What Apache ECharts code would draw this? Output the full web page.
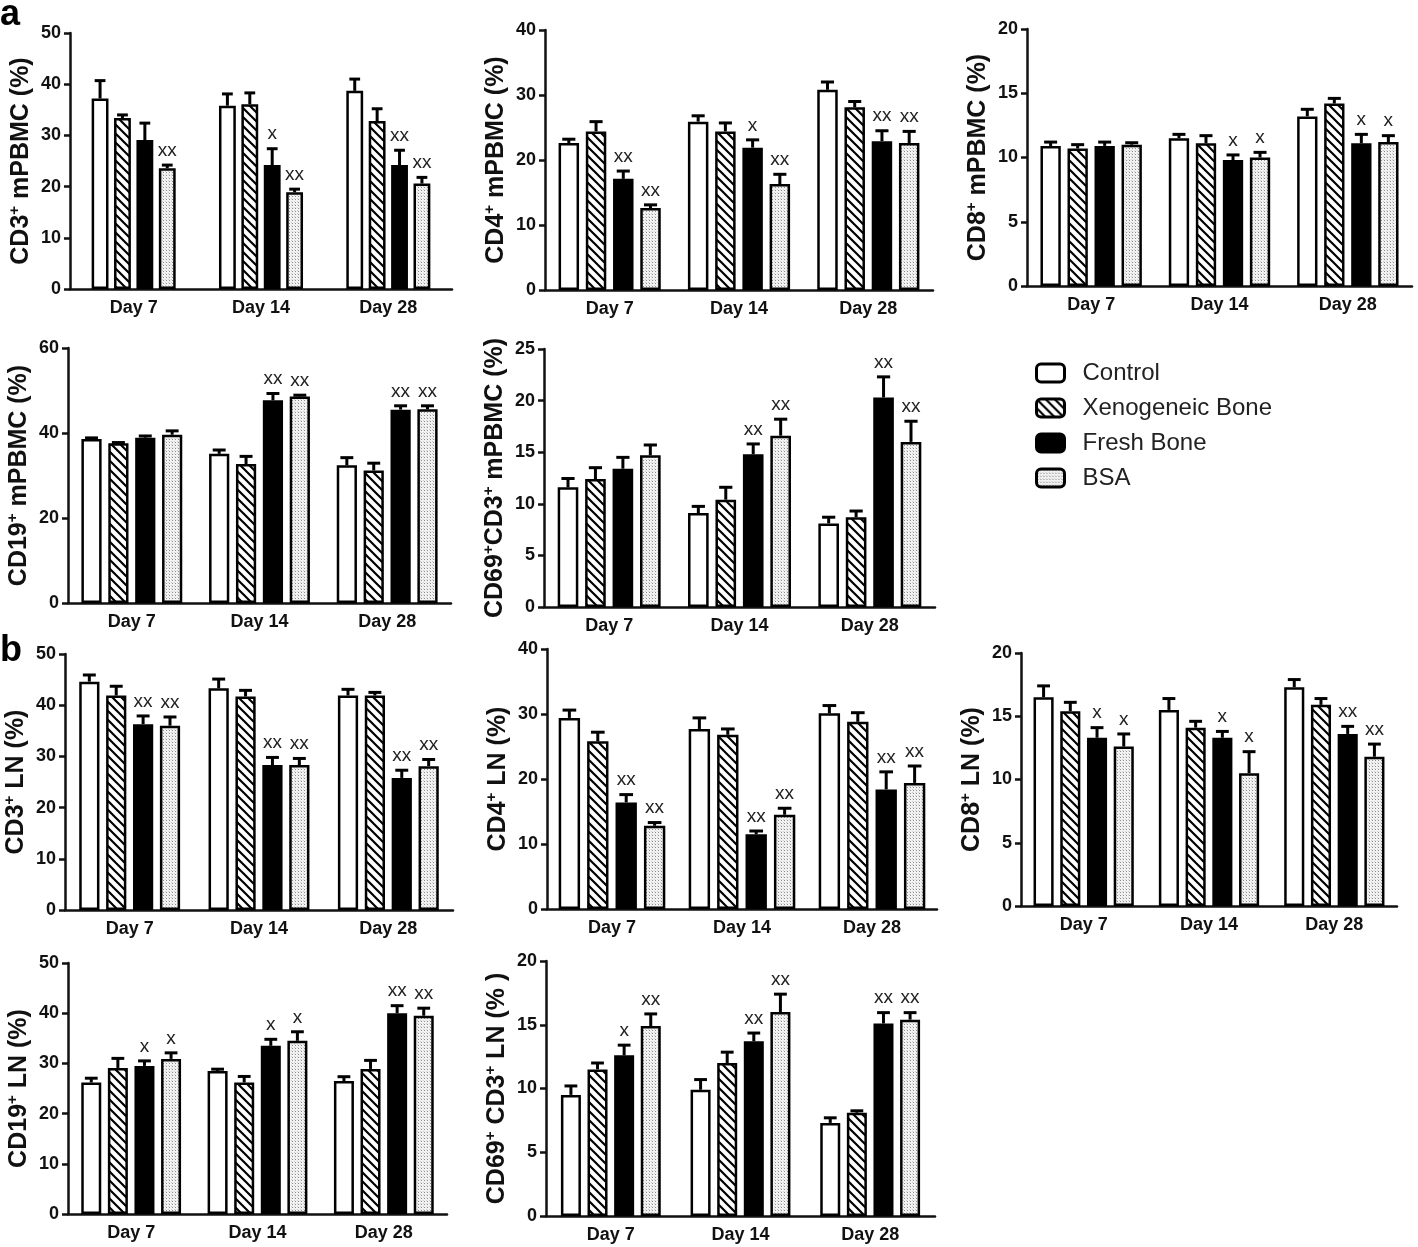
<!DOCTYPE html>
<html>
<head>
<meta charset="utf-8">
<title>Lymphocyte subsets - bar charts</title>
<script src="https://cdn.jsdelivr.net/npm/echarts@6/dist/echarts.min.js"></script>
<style>
    html, body { margin: 0; padding: 0; background: #fff; }
    #bars { width: 1418px; height: 1247px; }
</style>
</head>
<body>
<div id="bars"></div>
<script>

// Data
// ------------------------------

var days = ['Day 7', 'Day 14', 'Day 28'];
var groups = ['Control', 'Xenogeneic Bone', 'Fresh Bone', 'BSA'];

// rows: Control, Xenogeneic Bone, Fresh Bone, BSA / columns: days

// a - CD3+ mPBMC
var cd3PbmcMean = [[37.2, 35.8, 38.7], [33.4, 36.1, 32.8], [29.1, 24.2, 24.2], [23.6, 18.9, 20.6]];
var cd3PbmcSem  = [[3.5, 2.3, 2.3], [0.6, 2.2, 2.4], [3.3, 3.2, 2.9], [0.6, 0.6, 1.2]];
var cd3PbmcSig  = [['', '', ''], ['', '', ''], ['', 'x', 'xx'], ['xx', 'xx', 'xx']];

// a - CD4+ mPBMC
var cd4PbmcMean = [[22.6, 25.9, 30.8], [24.4, 24.4, 28.1], [17.1, 21.9, 22.9], [12.6, 16.3, 22.6]];
var cd4PbmcSem  = [[0.6, 0.9, 1.2], [1.5, 1.3, 0.9], [1.2, 1.2, 1.6], [0.5, 1.5, 1.8]];
var cd4PbmcSig  = [['', '', ''], ['', '', ''], ['xx', 'x', 'xx'], ['xx', 'xx', 'xx']];

// a - CD8+ mPBMC
var cd8PbmcMean = [[10.9, 11.5, 13.2], [10.7, 11.1, 14.2], [10.9, 9.8, 11.1], [11.0, 10.0, 11.2]];
var cd8PbmcSem  = [[0.3, 0.3, 0.55], [0.3, 0.6, 0.4], [0.3, 0.4, 0.7], [0.15, 0.4, 0.5]];
var cd8PbmcSig  = [['', '', ''], ['', '', ''], ['', 'x', 'x'], ['', 'x', 'x']];

// a - CD19+ mPBMC
var cd19PbmcMean = [[38.6, 35.1, 32.4], [37.6, 32.7, 31.2], [38.9, 47.7, 45.5], [39.6, 48.6, 45.6]];
var cd19PbmcSem  = [[0.25, 0.9, 1.8], [0.15, 1.8, 1.7], [0.4, 1.6, 0.9], [0.9, 0.3, 0.8]];
var cd19PbmcSig  = [['', '', ''], ['', '', ''], ['', 'xx', 'xx'], ['', 'xx', 'xx']];

// a - CD69+CD3+ mPBMC
var cd69PbmcMean = [[11.6, 9.1, 8.1], [12.4, 10.4, 8.7], [13.4, 14.8, 20.3], [14.7, 16.6, 16.0]];
var cd69PbmcSem  = [[0.85, 0.65, 0.6], [1.1, 1.2, 0.6], [1.1, 1.0, 2.0], [1.0, 1.6, 2.0]];
var cd69PbmcSig  = [['', '', ''], ['', '', ''], ['', 'xx', 'xx'], ['', 'xx', 'xx']];

// b - CD3+ LN
var cd3LnMean = [[44.6, 43.3, 41.9], [41.9, 41.7, 41.9], [36.3, 28.3, 25.8], [36.0, 28.3, 28.1]];
var cd3LnSem  = [[1.3, 1.8, 1.2], [1.8, 1.2, 0.6], [1.6, 1.5, 1.5], [1.7, 1.3, 1.3]];
var cd3LnSig  = [['', '', ''], ['', '', ''], ['xx', 'xx', 'xx'], ['xx', 'xx', 'xx']];

// b - CD4+ LN
var cd4LnMean = [[29.4, 27.7, 30.1], [25.8, 26.8, 28.8], [16.4, 11.5, 18.4], [12.8, 14.5, 19.4]];
var cd4LnSem  = [[1.2, 1.7, 1.2], [1.4, 0.9, 1.4], [1.2, 0.5, 2.7], [0.5, 1.0, 2.6]];
var cd4LnSig  = [['', '', ''], ['', '', ''], ['xx', 'xx', 'xx'], ['xx', 'xx', 'xx']];

// b - CD8+ LN
var cd8LnMean = [[16.5, 15.5, 17.3], [15.4, 14.1, 15.9], [13.3, 13.3, 13.6], [12.6, 10.5, 11.8]];
var cd8LnSem  = [[0.9, 0.9, 0.6], [0.7, 0.5, 0.5], [0.8, 0.5, 0.6], [1.0, 1.7, 1.0]];
var cd8LnSig  = [['', '', ''], ['', '', ''], ['x', 'x', 'xx'], ['x', 'x', 'xx']];

// b - CD19+ LN
var cd19LnMean = [[26.2, 28.5, 26.5], [29.1, 26.2, 28.9], [29.5, 33.5, 40.0], [30.9, 34.5, 39.5]];
var cd19LnSem  = [[0.85, 0.35, 0.85], [1.9, 1.2, 1.7], [1.0, 1.3, 1.5], [1.2, 1.8, 1.5]];
var cd19LnSig  = [['', '', ''], ['', '', ''], ['x', 'x', 'xx'], ['x', 'x', 'xx']];

// b - CD69+ CD3+ LN
var cd69LnMean = [[9.5, 9.9, 7.3], [11.5, 12.0, 8.1], [12.6, 13.7, 15.1], [14.9, 16.0, 15.4]];
var cd69LnSem  = [[0.7, 0.8, 0.4], [0.5, 0.85, 0.15], [0.8, 0.65, 0.85], [0.95, 1.4, 0.55]];
var cd69LnSig  = [['', '', ''], ['', '', ''], ['x', 'xx', 'xx'], ['xx', 'xx', 'xx']];


// Setup module
// ------------------------------

var LymphocyteBars = function() {

    var FONT = 'Arial, "Liberation Sans", sans-serif';

    // Fill patterns
    var makeHatch = function() {
        var s = 9;
        var c = document.createElement('canvas');
        c.width = c.height = s;
        var g = c.getContext('2d');
        g.fillStyle = '#fff';
        g.fillRect(0, 0, s, s);
        g.strokeStyle = '#000';
        g.lineWidth = 2.2;
        g.beginPath();
        g.moveTo(-2, -2); g.lineTo(s + 2, s + 2);
        g.moveTo(-2, s - 2); g.lineTo(2, s + 2);
        g.moveTo(s - 2, -2); g.lineTo(s + 2, 2);
        g.stroke();
        return c;
    };

    var makeDots = function() {
        var c = document.createElement('canvas');
        c.width = c.height = 3;
        var g = c.getContext('2d');
        g.fillStyle = '#f2f2f2';
        g.fillRect(0, 0, 3, 3);
        g.fillStyle = '#8c8c8c';
        g.fillRect(1, 1, 1, 1);
        g.fillStyle = '#cfcfcf';
        g.fillRect(0, 0, 1, 1);
        return c;
    };

    var _barsExample = function() {
        if (typeof echarts == 'undefined') {
            console.warn('Warning - echarts.min.js is not loaded.');
            return;
        }

        var bars_element = document.getElementById('bars');
        if (!bars_element) return;

        var fills = [
            '#fff',
            { image: makeHatch(), repeat: 'repeat' },
            '#000',
            { image: makeDots(), repeat: 'repeat' }
        ];

        // Panels: axis name, data, scale and plot box [left, top, right, bottom]
        var panels = [
            { name: '{b|CD3}{s|+}{b| mPBMC (%)}', mean: cd3PbmcMean, sem: cd3PbmcSem, sig: cd3PbmcSig, max: 50, step: 10, box: [70, 33, 452, 289], gap: 0.34 },
            { name: '{b|CD4}{s|+}{b| mPBMC (%)}', mean: cd4PbmcMean, sem: cd4PbmcSem, sig: cd4PbmcSig, max: 40, step: 10, box: [545, 30, 933, 290], gap: 0.21 },
            { name: '{b|CD8}{s|+}{b| mPBMC (%)}', mean: cd8PbmcMean, sem: cd8PbmcSem, sig: cd8PbmcSig, max: 20, step: 5, box: [1027, 29, 1412, 286], gap: 0.21 },
            { name: '{b|CD19}{s|+}{b| mPBMC (%)}', mean: cd19PbmcMean, sem: cd19PbmcSem, sig: cd19PbmcSig, max: 60, step: 20, box: [68, 348, 451, 603], gap: 0.21 },
            { name: '{b|CD69}{s|+}{b|CD3}{s|+}{b| mPBMC (%)}', mean: cd69PbmcMean, sem: cd69PbmcSem, sig: cd69PbmcSig, max: 25, step: 5, box: [544, 349, 935, 607], gap: 0.21 },
            { name: '{b|CD3}{s|+}{b| LN (%)}', mean: cd3LnMean, sem: cd3LnSem, sig: cd3LnSig, max: 50, step: 10, box: [65, 654, 453, 910], gap: 0.22 },
            { name: '{b|CD4}{s|+}{b| LN (%)}', mean: cd4LnMean, sem: cd4LnSem, sig: cd4LnSig, max: 40, step: 10, box: [547, 649, 937, 909], gap: 0.18 },
            { name: '{b|CD8}{s|+}{b| LN (%)}', mean: cd8LnMean, sem: cd8LnSem, sig: cd8LnSig, max: 20, step: 5, box: [1021, 653, 1397, 906], gap: 0.2 },
            { name: '{b|CD19}{s|+}{b| LN (%)}', mean: cd19LnMean, sem: cd19LnSem, sig: cd19LnSig, max: 50, step: 10, box: [68, 963, 447, 1214], gap: 0.21 },
            { name: '{b|CD69}{s|+}{b| CD3}{s|+}{b| LN (% )}', mean: cd69LnMean, sem: cd69LnSem, sig: cd69LnSig, max: 20, step: 5, box: [546, 961, 935, 1216], gap: 0.23 }
        ];
        var BAR_GAP = 0.33;

        var axisLineStyle = { color: '#111', width: 2.5 };

        var grids = [], xAxes = [], yAxes = [], series = [];

        panels.forEach(function(p, i) {
            grids.push({
                left: p.box[0],
                top: p.box[1],
                width: p.box[2] - p.box[0],
                height: p.box[3] - p.box[1]
            });

            xAxes.push({
                type: 'category',
                gridIndex: i,
                data: days,
                axisLine: { lineStyle: axisLineStyle },
                axisTick: { alignWithLabel: true, length: 6, lineStyle: axisLineStyle },
                axisLabel: { color: '#111', fontFamily: FONT, fontWeight: 'bold', fontSize: 18, margin: 10 }
            });

            yAxes.push({
                type: 'value',
                gridIndex: i,
                min: 0,
                max: p.max,
                interval: p.step,
                name: p.name,
                nameLocation: 'middle',
                nameRotate: 90,
                nameGap: 35,
                nameTextStyle: {
                    rich: {
                        b: { fontFamily: FONT, fontWeight: 'bold', fontSize: 25, color: '#111', lineHeight: 28 },
                        s: { fontFamily: FONT, fontWeight: 'bold', fontSize: 15, color: '#111', lineHeight: 15, verticalAlign: 'top' }
                    }
                },
                axisLine: { show: true, lineStyle: axisLineStyle },
                axisTick: { show: true, length: 6, lineStyle: axisLineStyle },
                splitLine: { show: false },
                axisLabel: { color: '#111', fontFamily: FONT, fontWeight: 'bold', fontSize: 18, margin: 9 }
            });

            // Bars
            groups.forEach(function(name, g) {
                series.push({
                    name: name,
                    type: 'bar',
                    xAxisIndex: i,
                    yAxisIndex: i,
                    data: p.mean[g],
                    barGap: (BAR_GAP * 100) + '%',
                    barCategoryGap: (p.gap * 100) + '%',
                    itemStyle: { color: fills[g], borderColor: '#000', borderWidth: 2.5 },
                    z: 2
                });
            });

            // Error bars and significance marks
            groups.forEach(function(name, g) {
                series.push({
                    type: 'custom',
                    xAxisIndex: i,
                    yAxisIndex: i,
                    z: 3,
                    data: p.mean[g].map(function(v, d) { return [d, v, p.sem[g][d]]; }),
                    renderItem: function(params, api) {
                        var band = api.size([1, 0])[0];
                        var used = band * (1 - p.gap);
                        var bw = used / (4 + 3 * BAR_GAP);
                        var cx = api.coord([api.value(0), 0])[0] - used / 2 + g * bw * (1 + BAR_GAP) + bw / 2;
                        var yMean = api.coord([0, api.value(1)])[1];
                        var yTop = api.coord([0, api.value(1) + api.value(2)])[1];
                        var cap = bw * 0.32;
                        var mark = p.sig[g][params.dataIndex];
                        var children = [
                            { type: 'line', shape: { x1: cx, y1: yMean, x2: cx, y2: yTop }, style: { stroke: '#000', lineWidth: 3 } },
                            { type: 'line', shape: { x1: cx - cap, y1: yTop, x2: cx + cap, y2: yTop }, style: { stroke: '#000', lineWidth: 3 } }
                        ];
                        if (mark) {
                            children.push({
                                type: 'text',
                                style: {
                                    text: mark, x: cx, y: yTop - 5,
                                    align: 'center', verticalAlign: 'bottom',
                                    fontFamily: FONT, fontSize: 19, fill: '#222'
                                }
                            });
                        }
                        return { type: 'group', children: children };
                    }
                });
            });
        });

        var bars = echarts.init(bars_element, null, { renderer: 'canvas' });

        bars.setOption({
            animation: false,
            backgroundColor: '#fff',
            textStyle: { fontFamily: FONT },

            grid: grids,
            xAxis: xAxes,
            yAxis: yAxes,

            // Legend
            legend: {
                data: groups,
                orient: 'vertical',
                left: 1030,
                top: 356,
                icon: 'roundRect',
                itemWidth: 28,
                itemHeight: 18,
                itemGap: 11,
                selectedMode: false,
                itemStyle: { borderColor: '#000', borderWidth: 3 },
                textStyle: { fontFamily: FONT, fontSize: 24, color: '#222', padding: [0, 0, 0, 13] }
            },

            // Panel letters
            graphic: [
                { type: 'text', left: 0, top: -3, style: { text: 'a', fontFamily: FONT, fontWeight: 'bold', fontSize: 36, fill: '#000' } },
                { type: 'text', left: 0, top: 633, style: { text: 'b', fontFamily: FONT, fontWeight: 'bold', fontSize: 36, fill: '#000' } }
            ],

            series: series
        });
    };

    return {
        init: function() {
            _barsExample();
        }
    }
}();


// Initialize module
// ------------------------------

document.addEventListener('DOMContentLoaded', function() {
    LymphocyteBars.init();
});
</script>
</body>
</html>
